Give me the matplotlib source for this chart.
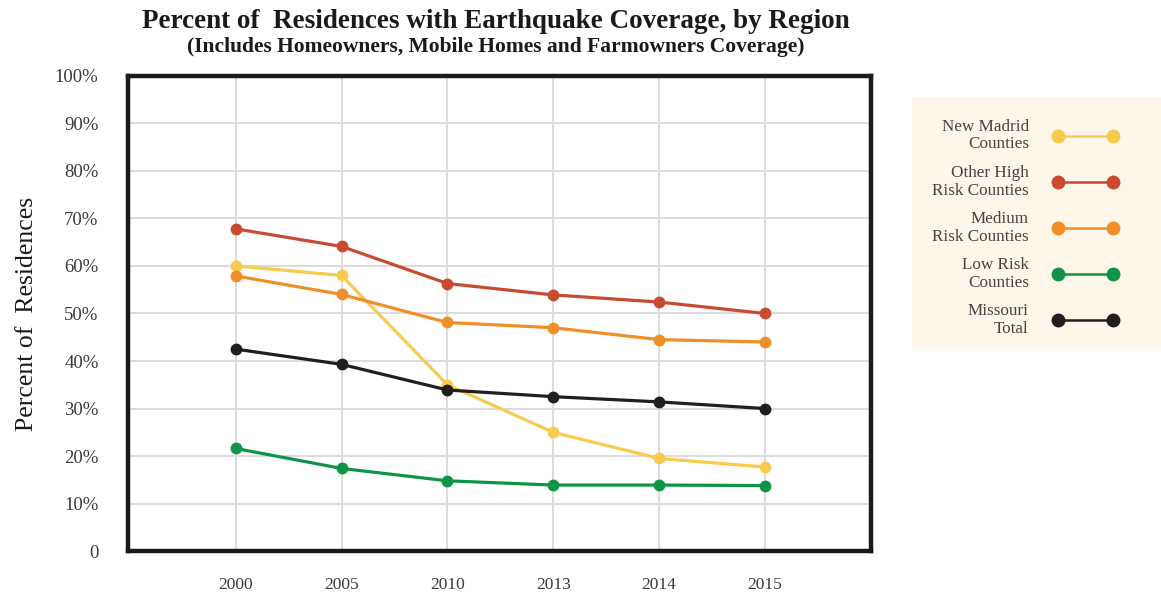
import matplotlib.pyplot as plt
from matplotlib.lines import Line2D
from matplotlib.patches import Rectangle

years = ['2000', '2005', '2010', '2013', '2014', '2015']
new_madrid = [60.0, 58.0, 35.0, 25.0, 19.5, 17.7]
other_high = [67.8, 64.1, 56.3, 53.9, 52.4, 50.0]
medium = [57.9, 54.0, 48.1, 47.0, 44.5, 44.0]
low = [21.6, 17.4, 14.8, 13.9, 13.9, 13.8]
missouri = [42.5, 39.3, 33.9, 32.5, 31.4, 30.0]

series = [
    ('New Madrid\nCounties', new_madrid, '#f8cb4f'),
    ('Other High\nRisk Counties', other_high, '#c84a31'),
    ('Medium\nRisk Counties', medium, '#f08f27'),
    ('Low Risk\nCounties', low, '#0f9447'),
    ('Missouri\nTotal', missouri, '#221e1f'),
]

plt.rcParams['font.family'] = ['Liberation Serif', 'DejaVu Serif']

fig = plt.figure(figsize=(11.61, 5.92), dpi=100)
ax = fig.add_axes([0.110, 0.069, 0.640, 0.803])

x = list(range(len(years)))
for name, vals, col in series:
    ax.plot(x, vals, color=col, lw=2.3, marker='o', ms=7.5, zorder=3)

ax.set_xlim(-1.02, 6.0)
ax.set_ylim(0, 100)
ax.set_xticks(x)
ax.set_xticklabels(years)
ax.set_yticks(range(0, 101, 10))
ax.set_yticklabels(['0'] + ['%d%%' % v for v in range(10, 101, 10)])
ax.tick_params(axis='both', length=0, colors='#3a3a3a')
ax.tick_params(axis='x', pad=18.5, labelsize=12.5)
ax.tick_params(axis='y', pad=21, labelsize=13.5)
ax.grid(True, color='#dcdcdc', lw=1.4, zorder=0)
for s in ax.spines.values():
    s.set_linewidth(3.2)
    s.set_color('#1a1a1a')

ax.set_ylabel('Percent of  Residences', fontsize=18.5, labelpad=12, color='#1a1a1a')

fig.text(0.427, 0.963, 'Percent of  Residences with Earthquake Coverage, by Region',
         ha='center', va='center', fontsize=19.5, fontweight='bold', color='#1a1a1a')
fig.text(0.427, 0.921, '(Includes Homeowners, Mobile Homes and Farmowners Coverage)',
         ha='center', va='center', fontsize=15.5, fontweight='bold', color='#1a1a1a')

# legend panel
fig.patches.append(Rectangle((912 / 1161, 1 - 350 / 592), 249 / 1161, 253 / 592,
                             transform=fig.transFigure, facecolor='#fdf6e9',
                             edgecolor='none', zorder=0))
for i, (name, vals, col) in enumerate(series):
    yc = 1 - (135.5 + i * 46.2) / 592
    fig.text(1029 / 1161, yc, name, ha='right', va='center', fontsize=12.3,
             color='#444444', linespacing=1.15)
    fig.add_artist(Line2D([1058 / 1161, 1113 / 1161], [yc, yc], color=col, lw=1.8,
                          marker='o', ms=9, transform=fig.transFigure))

fig.savefig('out.png', dpi=100)
